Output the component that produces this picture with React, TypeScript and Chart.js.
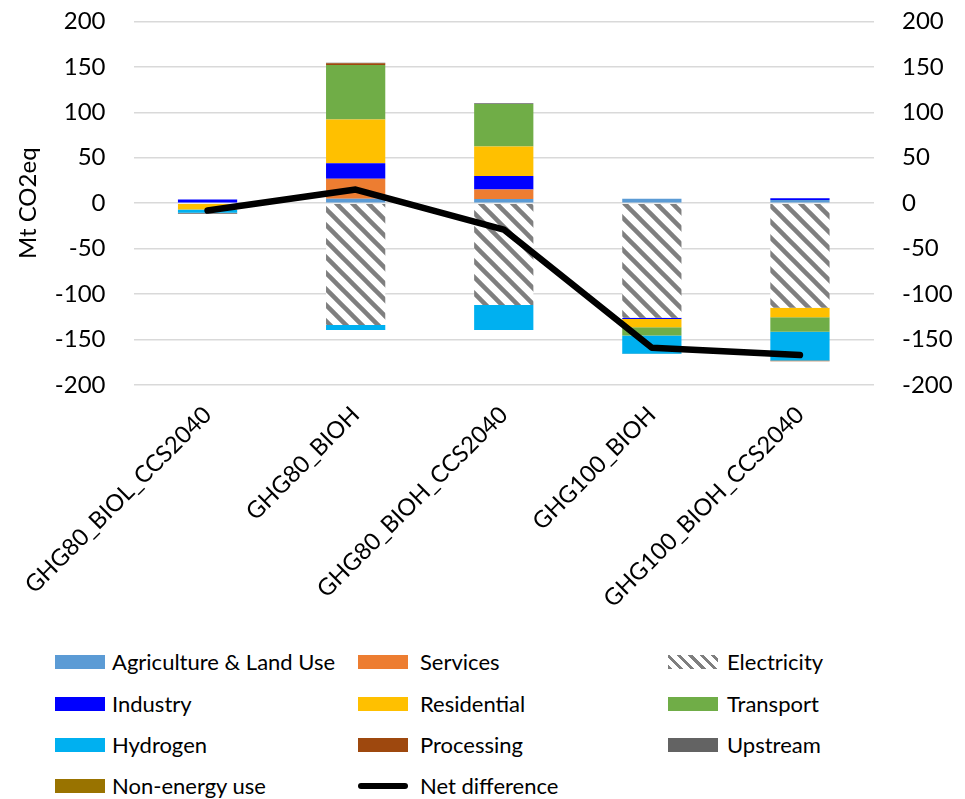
import React, { useEffect, useRef } from "react";
import { Chart, registerables } from "chart.js";

Chart.register(...registerables);

const categories = ["GHG80_BIOL_CCS2040", "GHG80_BIOH", "GHG80_BIOH_CCS2040", "GHG100_BIOH", "GHG100_BIOH_CCS2040"];
const agriculture = [0, 5, 4.5, 5, 3.5];
const services = [0, 22, 10.5, 0, 0];
const electricity = [0, -134, -112, -126, -115];
const industry = [4, 17, 15, -1.5, 2];
const residential = [-7, 48, 32.5, -9, -10.5];
const transport = [0, 60, 46.5, -9, -16];
const hydrogen = [-3.5, -5.5, -27.5, -20, -31.5];
const processing = [0, 2, 0, -0.5, -1];
const upstream = [-1, 0.5, 1, 0, 0];
const nonEnergy = [0, 0, 0, 0, 0];
const netDifference = [-8, 15, -29, -159, -167];
const yTicks = [200, 150, 100, 50, 0, -50, -100, -150, -200];

const FONT = "Lato, 'Open Sans', sans-serif";

function makeHatch(): CanvasPattern | string {
  const c = document.createElement("canvas");
  c.width = 16;
  c.height = 16;
  const ctx = c.getContext("2d");
  if (!ctx) return "#808080";
  ctx.fillStyle = "#ffffff";
  ctx.fillRect(0, 0, 16, 16);
  ctx.strokeStyle = "#7f7f7f";
  ctx.lineWidth = 4.5;
  ctx.lineCap = "square";
  const lines = [
    [-8, -8, 24, 24],
    [8, -8, 40, 24],
    [-24, -8, 8, 24],
  ];
  for (const [x1, y1, x2, y2] of lines) {
    ctx.beginPath();
    ctx.moveTo(x1, y1);
    ctx.lineTo(x2, y2);
    ctx.stroke();
  }
  const p = ctx.createPattern(c, "repeat");
  return p || "#808080";
}

const legendItems = [
  { label: "Agriculture & Land Use", color: "#5B9BD5", col: 0, row: 0 },
  { label: "Services", color: "#ED7D31", col: 1, row: 0 },
  { label: "Electricity", color: "hatch", col: 2, row: 0 },
  { label: "Industry", color: "#0000FF", col: 0, row: 1 },
  { label: "Residential", color: "#FFC000", col: 1, row: 1 },
  { label: "Transport", color: "#70AD47", col: 2, row: 1 },
  { label: "Hydrogen", color: "#00B0F0", col: 0, row: 2 },
  { label: "Processing", color: "#9E480E", col: 1, row: 2 },
  { label: "Upstream", color: "#636363", col: 2, row: 2 },
  { label: "Non-energy use", color: "#997300", col: 0, row: 3 },
  { label: "Net difference", color: "line", col: 1, row: 3 },
];
const colX = [55, 358, 668];
const textX = [112, 420, 727];
const rowY = [662, 704, 745, 786];

const CANVAS_TOP = -21;
const CANVAS_H = 661;

export default function App() {
  const ref = useRef<HTMLCanvasElement | null>(null);

  useEffect(() => {
    if (!ref.current) return;
    const hatch = makeHatch();
    const bar = (label: string, data: number[], color: any) => ({
      type: "bar" as const,
      label,
      data,
      backgroundColor: color,
      borderWidth: 0,
      stack: "s",
      order: 1,
      yAxisID: "y",
      barPercentage: 0.4,
      categoryPercentage: 1,
    });
    const chart = new Chart(ref.current, {
      type: "bar",
      data: {
        labels: categories,
        datasets: [
          bar("Agriculture & Land Use", agriculture, "#5B9BD5"),
          bar("Services", services, "#ED7D31"),
          bar("Electricity", electricity, hatch),
          bar("Industry", industry, "#0000FF"),
          bar("Residential", residential, "#FFC000"),
          bar("Transport", transport, "#70AD47"),
          bar("Hydrogen", hydrogen, "#00B0F0"),
          bar("Processing", processing, "#9E480E"),
          bar("Upstream", upstream, "#636363"),
          bar("Non-energy use", nonEnergy, "#997300"),
          {
            type: "line" as const,
            label: "Net difference",
            data: netDifference,
            borderColor: "#000000",
            backgroundColor: "#000000",
            borderWidth: 6.5,
            borderCapStyle: "round",
            borderJoinStyle: "round",
            pointRadius: 0,
            tension: 0,
            order: 0,
            yAxisID: "y",
          } as any,
        ],
      },
      options: {
        animation: false,
        responsive: false,
        maintainAspectRatio: false,
        layout: { padding: { top: 0, left: 0, right: 0, bottom: 0 } },
        plugins: { legend: { display: false }, tooltip: { enabled: false } },
        scales: {
          x: {
            stacked: true,
            grid: { display: false, drawTicks: false },
            border: { display: false },
            ticks: {
              autoSkip: false,
              minRotation: 45,
              maxRotation: 45,
              padding: 16,
              color: "#000000",
              font: { family: FONT, size: 23.5 },
            },
            afterFit: (s: any) => {
              s.height = 255;
            },
          },
          y: {
            stacked: true,
            position: "left",
            min: -200,
            max: 200,
            afterBuildTicks: (s: any) => {
              s.ticks = yTicks.map((v) => ({ value: v }));
            },
            grid: { color: "#d9d9d9", lineWidth: 1.5, drawTicks: false },
            border: { display: false },
            ticks: { padding: 28, color: "#000000", font: { family: FONT, size: 24 } },
            title: {
              display: true,
              text: "Mt CO2eq",
              color: "#000000",
              font: { family: FONT, size: 24 },
              padding: { top: 13, bottom: 0 },
            },
            afterFit: (s: any) => {
              s.width = 133;
            },
          },
          y2: {
            position: "right",
            min: -200,
            max: 200,
            afterBuildTicks: (s: any) => {
              s.ticks = yTicks.map((v) => ({ value: v }));
            },
            grid: { display: false, drawTicks: false },
            border: { display: false },
            ticks: { padding: 28, color: "#000000", font: { family: FONT, size: 24 } },
            afterFit: (s: any) => {
              s.width = 91;
            },
          },
        },
      } as any,
    });
    return () => chart.destroy();
  }, []);

  return (
    <div style={{ position: "absolute", left: 0, top: 0, width: 965, height: 799, background: "#fff", fontFamily: FONT, overflow: "hidden" }}>
      <canvas
        ref={ref}
        width={965}
        height={CANVAS_H}
        style={{ position: "absolute", left: 0, top: CANVAS_TOP, width: 965, height: CANVAS_H }}
      />
      {legendItems.map((it) => {
        const x = colX[it.col];
        const y = rowY[it.row];
        let swatch: React.ReactNode;
        if (it.color === "line") {
          swatch = (
            <div style={{ position: "absolute", left: x, top: y - 3, width: 50, height: 6, background: "#000", borderRadius: 3 }} />
          );
        } else if (it.color === "hatch") {
          swatch = (
            <div
              style={{
                position: "absolute",
                left: x,
                top: y - 7,
                width: 50,
                height: 14,
                background: "repeating-linear-gradient(45deg, #7f7f7f 0px, #7f7f7f 3px, #ffffff 3px, #ffffff 8px)",
              }}
            />
          );
        } else {
          swatch = <div style={{ position: "absolute", left: x, top: y - 7, width: 50, height: 14, background: it.color }} />;
        }
        return (
          <React.Fragment key={it.label}>
            {swatch}
            <div
              style={{
                position: "absolute",
                left: textX[it.col],
                top: y - 14,
                height: 28,
                lineHeight: "28px",
                fontSize: 22,
                color: "#000",
                whiteSpace: "nowrap",
              }}
            >
              {it.label}
            </div>
          </React.Fragment>
        );
      })}
    </div>
  );
}
